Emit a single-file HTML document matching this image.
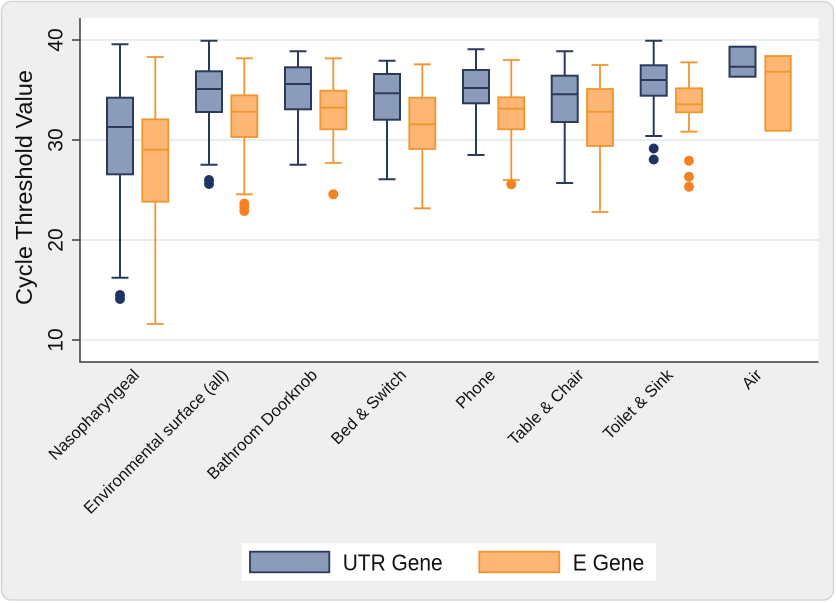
<!DOCTYPE html>
<html>
<head>
<meta charset="utf-8">
<style>
  html, body { margin: 0; padding: 0; background: #ffffff; }
  svg { display: block; }
  text { font-family: "Liberation Sans", "DejaVu Sans", sans-serif; fill: #111; }
</style>
</head>
<body>
<svg width="836" height="603" viewBox="0 0 836 603" xmlns="http://www.w3.org/2000/svg">
  <!-- outer panel -->
  <rect x="1.5" y="1.5" width="832" height="598.5" rx="10" ry="10" fill="#efefef" stroke="#d6d6d6" stroke-width="1.5"/>
  <!-- plot area -->
  <rect x="80" y="18" width="738.5" height="344" fill="#ffffff"/>
  <!-- gridlines -->
  <g stroke="#e2e6ec" stroke-width="1.5">
    <line x1="80" y1="40" x2="818.5" y2="40"/>
    <line x1="80" y1="140" x2="818.5" y2="140"/>
    <line x1="80" y1="240" x2="818.5" y2="240"/>
    <line x1="80" y1="340" x2="818.5" y2="340"/>
  </g>
  <!-- axes -->
  <g stroke="#3c3c3c" stroke-width="1.5">
    <line x1="80" y1="18" x2="80" y2="362.5"/>
    <line x1="79.3" y1="362" x2="818.5" y2="362"/>
    <line x1="72" y1="40" x2="80" y2="40"/>
    <line x1="72" y1="140" x2="80" y2="140"/>
    <line x1="72" y1="240" x2="80" y2="240"/>
    <line x1="72" y1="340" x2="80" y2="340"/>
  </g>
  <!-- y tick labels -->
  <g font-size="21" text-anchor="middle">
    <text x="62.5" y="40" transform="rotate(-90 62.5 40)">40</text>
    <text x="62.5" y="140" transform="rotate(-90 62.5 140)">30</text>
    <text x="62.5" y="240" transform="rotate(-90 62.5 240)">20</text>
    <text x="62.5" y="340" transform="rotate(-90 62.5 340)">10</text>
  </g>
  <!-- y title -->
  <text x="32" y="187.5" font-size="23" text-anchor="middle" textLength="235" lengthAdjust="spacingAndGlyphs" transform="rotate(-90 32 187.5)">Cycle Threshold Value</text>

  <!-- UTR gene boxes -->
  <g stroke="#2c3a5a" stroke-width="2" fill="none">
    <line x1="120" y1="44.3" x2="120" y2="97.7"/><line x1="111.5" y1="44.3" x2="128.5" y2="44.3"/>
    <line x1="120" y1="174.3" x2="120" y2="277.7"/><line x1="111.5" y1="277.7" x2="128.5" y2="277.7"/>
    <rect x="107" y="97.7" width="26" height="76.6" fill="#8b9bba"/><line x1="107" y1="127" x2="133" y2="127"/>

    <line x1="209" y1="40.7" x2="209" y2="71.3"/><line x1="200.5" y1="40.7" x2="217.5" y2="40.7"/>
    <line x1="209" y1="112" x2="209" y2="164.7"/><line x1="200.5" y1="164.7" x2="217.5" y2="164.7"/>
    <rect x="196" y="71.3" width="26" height="40.7" fill="#8b9bba"/><line x1="196" y1="89" x2="222" y2="89"/>

    <line x1="298" y1="51.3" x2="298" y2="67.3"/><line x1="289.5" y1="51.3" x2="306.5" y2="51.3"/>
    <line x1="298" y1="109.3" x2="298" y2="164.7"/><line x1="289.5" y1="164.7" x2="306.5" y2="164.7"/>
    <rect x="285" y="67.3" width="26" height="42" fill="#8b9bba"/><line x1="285" y1="84" x2="311" y2="84"/>

    <line x1="387" y1="60.7" x2="387" y2="74"/><line x1="378.5" y1="60.7" x2="395.5" y2="60.7"/>
    <line x1="387" y1="119.7" x2="387" y2="179.3"/><line x1="378.5" y1="179.3" x2="395.5" y2="179.3"/>
    <rect x="374" y="74" width="26" height="45.7" fill="#8b9bba"/><line x1="374" y1="93.3" x2="400" y2="93.3"/>

    <line x1="476" y1="49.3" x2="476" y2="70"/><line x1="467.5" y1="49.3" x2="484.5" y2="49.3"/>
    <line x1="476" y1="103.3" x2="476" y2="155"/><line x1="467.5" y1="155" x2="484.5" y2="155"/>
    <rect x="463" y="70" width="26" height="33.3" fill="#8b9bba"/><line x1="463" y1="88" x2="489" y2="88"/>

    <line x1="564.7" y1="51.3" x2="564.7" y2="75.7"/><line x1="556.2" y1="51.3" x2="573.2" y2="51.3"/>
    <line x1="564.7" y1="122" x2="564.7" y2="183"/><line x1="556.2" y1="183" x2="573.2" y2="183"/>
    <rect x="551.7" y="75.7" width="26" height="46.3" fill="#8b9bba"/><line x1="551.7" y1="94.3" x2="577.7" y2="94.3"/>

    <line x1="653.7" y1="40.7" x2="653.7" y2="65.3"/><line x1="645.2" y1="40.7" x2="662.2" y2="40.7"/>
    <line x1="653.7" y1="95.7" x2="653.7" y2="136"/><line x1="645.2" y1="136" x2="662.2" y2="136"/>
    <rect x="640.7" y="65.3" width="26" height="30.4" fill="#8b9bba"/><line x1="640.7" y1="80" x2="666.7" y2="80"/>

    <rect x="729.5" y="46.7" width="26" height="30" fill="#8b9bba"/><line x1="729.5" y1="66.7" x2="755.5" y2="66.7"/>
  </g>
  <!-- UTR outliers -->
  <g fill="#1f3464">
    <circle cx="120" cy="295" r="5"/><circle cx="120" cy="299" r="5"/>
    <circle cx="209" cy="180" r="5"/><circle cx="209" cy="184" r="5"/>
    <circle cx="653.7" cy="148.5" r="5"/><circle cx="653.7" cy="159.5" r="5"/>
  </g>

  <!-- E gene boxes -->
  <g stroke="#f0962f" stroke-width="1.8" fill="none">
    <line x1="155.3" y1="57" x2="155.3" y2="119.3"/><line x1="146.8" y1="57" x2="163.8" y2="57"/>
    <line x1="155.3" y1="201.7" x2="155.3" y2="324"/><line x1="146.8" y1="324" x2="163.8" y2="324"/>
    <rect x="142.3" y="119.3" width="26" height="82.4" fill="#fdb673"/><line x1="142.3" y1="149.7" x2="168.3" y2="149.7"/>

    <line x1="244.3" y1="58.3" x2="244.3" y2="95.3"/><line x1="235.8" y1="58.3" x2="252.8" y2="58.3"/>
    <line x1="244.3" y1="137" x2="244.3" y2="194.3"/><line x1="235.8" y1="194.3" x2="252.8" y2="194.3"/>
    <rect x="231.3" y="95.3" width="26" height="41.7" fill="#fdb673"/><line x1="231.3" y1="111.7" x2="257.3" y2="111.7"/>

    <line x1="333.3" y1="58.3" x2="333.3" y2="90.7"/><line x1="324.8" y1="58.3" x2="341.8" y2="58.3"/>
    <line x1="333.3" y1="129.3" x2="333.3" y2="163"/><line x1="324.8" y1="163" x2="341.8" y2="163"/>
    <rect x="320.3" y="90.7" width="26" height="38.6" fill="#fdb673"/><line x1="320.3" y1="107.7" x2="346.3" y2="107.7"/>

    <line x1="422.3" y1="64.3" x2="422.3" y2="97.7"/><line x1="413.8" y1="64.3" x2="430.8" y2="64.3"/>
    <line x1="422.3" y1="149" x2="422.3" y2="208.3"/><line x1="413.8" y1="208.3" x2="430.8" y2="208.3"/>
    <rect x="409.3" y="97.7" width="26" height="51.3" fill="#fdb673"/><line x1="409.3" y1="124.3" x2="435.3" y2="124.3"/>

    <line x1="511.3" y1="60" x2="511.3" y2="97.3"/><line x1="502.8" y1="60" x2="519.8" y2="60"/>
    <line x1="511.3" y1="129.3" x2="511.3" y2="180"/><line x1="502.8" y1="180" x2="519.8" y2="180"/>
    <rect x="498.3" y="97.3" width="26" height="32" fill="#fdb673"/><line x1="498.3" y1="108.7" x2="524.3" y2="108.7"/>

    <line x1="600" y1="65" x2="600" y2="89"/><line x1="591.5" y1="65" x2="608.5" y2="65"/>
    <line x1="600" y1="146" x2="600" y2="212"/><line x1="591.5" y1="212" x2="608.5" y2="212"/>
    <rect x="587" y="89" width="26" height="57" fill="#fdb673"/><line x1="587" y1="111.7" x2="613" y2="111.7"/>

    <line x1="689" y1="62.3" x2="689" y2="88.3"/><line x1="680.5" y1="62.3" x2="697.5" y2="62.3"/>
    <line x1="689" y1="112.3" x2="689" y2="131.7"/><line x1="680.5" y1="131.7" x2="697.5" y2="131.7"/>
    <rect x="676" y="88.3" width="26" height="24" fill="#fdb673"/><line x1="676" y1="104.3" x2="702" y2="104.3"/>

    <rect x="765.3" y="56" width="25.5" height="74.7" fill="#fdb673"/><line x1="765.3" y1="71.7" x2="790.8" y2="71.7"/>
  </g>
  <!-- E outliers -->
  <g fill="#f58220">
    <circle cx="244.3" cy="203.5" r="5"/><circle cx="244.3" cy="207" r="5"/><circle cx="244.3" cy="211" r="5"/>
    <circle cx="333.3" cy="194.3" r="5"/>
    <circle cx="511.3" cy="184.3" r="5"/>
    <circle cx="689" cy="160.7" r="5"/><circle cx="689" cy="176.7" r="5"/><circle cx="689" cy="186.7" r="5"/>
  </g>

  <!-- x category labels -->
  <g font-size="16.5" text-anchor="end">
    <text x="140.2" y="376" transform="rotate(-45 140.2 376)">Nasopharyngeal</text>
    <text x="229.2" y="376" transform="rotate(-45 229.2 376)">Environmental surface (all)</text>
    <text x="318.2" y="376" transform="rotate(-45 318.2 376)">Bathroom Doorknob</text>
    <text x="407.2" y="376" transform="rotate(-45 407.2 376)">Bed &amp; Switch</text>
    <text x="496.2" y="376" transform="rotate(-45 496.2 376)">Phone</text>
    <text x="584.8" y="376" transform="rotate(-45 584.8 376)">Table &amp; Chair</text>
    <text x="673.8" y="376" transform="rotate(-45 673.8 376)">Toilet &amp; Sink</text>
    <text x="762.8" y="376" transform="rotate(-45 762.8 376)">Air</text>
  </g>

  <!-- legend -->
  <rect x="241.7" y="543.3" width="414.3" height="37.4" fill="#ffffff"/>
  <rect x="250" y="551.7" width="79.3" height="20.6" fill="#8b9bba" stroke="#2c3a5a" stroke-width="1.8"/>
  <text x="342.7" y="570.5" font-size="23" textLength="100" lengthAdjust="spacingAndGlyphs">UTR Gene</text>
  <rect x="479.3" y="551.7" width="80" height="20.6" fill="#fdb673" stroke="#f0962f" stroke-width="1.8"/>
  <text x="572.7" y="570.5" font-size="23" textLength="71.6" lengthAdjust="spacingAndGlyphs">E Gene</text>
</svg>
</body>
</html>
